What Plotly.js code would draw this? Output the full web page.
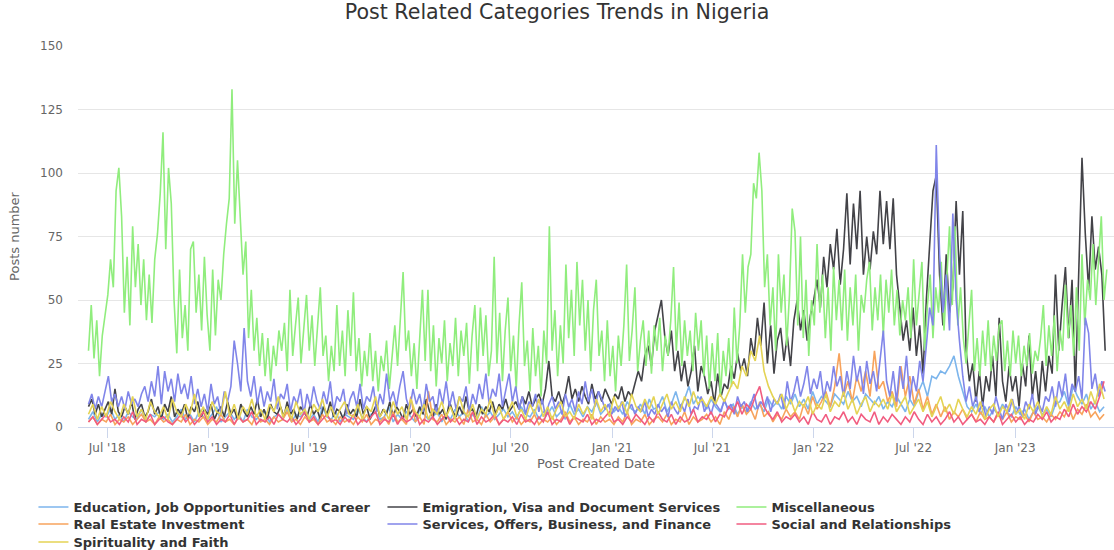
<!DOCTYPE html>
<html>
<head>
<meta charset="utf-8">
<script src="https://cdn.plot.ly/plotly-3.0.1.min.js"></script>
<style>html,body{margin:0;padding:0;background:#fff;}#chart{width:1114px;height:550px;}</style>
</head>
<body>
<div id="chart"></div>
<script>
// ---- data ----
const START_DATE = '2018-05-28';
const MISC_STEP_DAYS = 5;   // Miscellaneous sampled every 5 days
const MAIN_STEP_DAYS = 6;   // Emigration / Services sampled every 6 days
const MINOR_STEP_DAYS = 8;  // the four small categories sampled every 8 days

const seriesNames = [
  'Education, Job Opportunities and Career',
  'Emigration, Visa and Document Services',
  'Miscellaneous',
  'Real Estate Investment',
  'Services, Offers, Business, and Finance',
  'Social and Relationships',
  'Spirituality and Faith'
];

const miscellaneous = [
  30,48,27,42,20,36,44,52,66,55,
  93,102,83,45,67,40,79,55,72,48,
  66,42,60,41,66,76,92,116,70,102,
  88,50,29,62,35,48,30,70,73,45,
  60,38,67,44,30,62,36,58,50,68,
  80,90,133,80,105,85,60,73,35,54,
  30,43,24,37,20,35,18,32,24,38,
  30,41,22,54,28,40,51,25,38,52,
  30,44,24,40,55,28,36,18,32,22,
  48,24,38,20,46,28,53,22,35,16,
  30,20,37,18,30,14,28,22,34,15,
  26,40,24,44,61,30,38,20,33,15,
  36,54,26,54,22,40,16,35,25,42,
  18,33,24,43,20,38,28,41,17,36,
  48,22,47,28,44,20,30,67,25,45,
  18,38,51,22,36,15,40,57,24,34,
  14,39,20,32,12,38,25,79,30,46,
  20,40,25,64,35,54,28,65,40,58,
  30,50,22,46,58,28,38,18,42,20,
  32,14,36,24,40,64,26,38,55,22,
  34,42,24,38,21,40,30,43,22,36,
  28,42,63,30,49,24,42,28,38,22,
  45,30,42,20,36,15,33,18,37,12,
  30,20,35,16,47,25,40,68,45,63,
  68,96,90,108,93,55,68,40,55,30,
  68,45,60,32,52,86,77,40,75,35,
  58,28,50,40,72,45,60,35,55,30,
  63,42,58,38,62,34,55,40,60,30,
  52,45,58,65,38,55,42,60,36,58,
  45,62,40,54,36,50,42,55,35,66,
  40,52,65,30,48,60,35,55,45,65,
  38,58,79,48,79,40,55,35,25,40,
  54,22,35,20,38,24,42,22,36,26,
  40,42,22,34,20,38,25,36,20,32,
  24,37,21,30,26,35,48,24,40,28,
  44,22,38,30,56,35,48,28,55,30,
  68,40,58,50,72,48,64,83,50,62
];

const emigration = [
  8,11,5,9,4,7,10,5,15,6,
  4,8,5,10,3,7,9,4,6,11,
  5,8,3,9,6,12,4,7,5,9,
  3,8,6,10,4,7,5,9,3,6,
  8,4,10,5,7,3,9,6,4,8,
  5,11,4,7,3,9,6,5,8,4,
  10,5,7,3,8,6,4,9,5,7,
  3,8,5,10,4,7,6,3,9,5,
  7,4,11,5,8,3,6,9,4,7,
  5,10,4,8,6,3,9,5,7,4,
  8,5,11,6,4,9,5,7,3,10,
  6,4,8,5,12,6,7,4,9,5,
  8,6,10,5,9,7,11,6,8,10,
  7,12,9,14,8,11,13,9,15,26,
  12,10,14,9,13,20,11,15,10,16,
  12,9,17,11,14,10,15,12,9,13,
  11,16,10,14,12,17,22,18,28,32,
  24,38,44,50,36,28,38,22,30,18,
  26,16,22,32,14,24,20,13,18,9,
  21,12,17,15,24,19,29,22,27,20,
  35,28,43,32,49,25,40,21,34,39,
  26,36,24,42,50,38,46,34,44,50,
  58,47,67,55,72,62,78,56,70,92,
  64,88,70,93,60,75,62,77,68,93,
  72,89,70,90,60,48,34,42,30,47,
  28,40,21,50,74,93,99,60,40,68,
  45,55,89,60,85,30,18,25,10,22,
  8,20,14,28,12,43,18,10,24,14,
  20,8,25,16,36,12,22,9,26,14,
  28,21,60,30,48,63,35,58,14,61,
  106,76,54,83,62,71,60,30
];

const services = [
  9,13,7,12,8,14,20,10,13,8,
  12,7,14,9,11,8,13,16,10,18,
  12,24,9,22,14,19,10,21,13,17,
  11,20,9,15,8,13,6,17,9,12,
  5,14,10,16,34,25,14,39,18,12,
  20,9,16,8,14,10,19,7,13,11,
  17,6,12,9,15,5,13,8,16,10,
  7,14,9,18,6,12,10,15,5,11,
  14,8,17,7,12,10,16,6,13,9,
  21,10,14,8,16,22,11,7,15,9,
  13,6,17,10,12,5,15,9,18,8,
  14,7,12,10,16,6,13,9,17,11,
  21,9,15,12,21,8,14,21,10,16,
  7,12,5,10,8,13,6,11,4,9,
  12,7,10,5,13,8,11,6,14,9,
  18,10,15,8,14,11,7,9,5,8,
  6,10,4,7,9,5,8,6,10,4,
  7,5,9,6,8,4,10,7,5,9,
  6,11,5,8,7,12,6,9,5,10,
  8,6,11,7,9,5,12,8,10,6,
  9,13,7,10,8,12,6,11,9,13,
  7,18,10,14,20,12,17,24,13,19,
  15,22,11,18,14,24,16,20,12,22,
  15,28,18,24,13,26,17,22,14,25,
  38,18,12,22,10,24,15,28,11,20,
  14,26,18,32,47,40,111,68,45,60,
  38,84,50,34,20,10,16,8,12,6,
  10,4,8,5,12,7,3,9,6,11,
  5,8,4,10,7,13,5,9,6,12,
  10,16,8,18,12,21,9,17,14,20,
  11,43,37,15,21,12,18,14
];

const education = [
  3,6,2,5,4,7,3,5,2,6,4,3,7,2,5,4,6,3,5,2,
  4,7,3,5,2,6,4,3,5,8,2,4,6,3,5,2,7,4,3,5,
  6,2,4,5,3,7,2,5,4,6,3,5,2,8,4,3,6,2,5,4,
  3,7,4,2,5,6,3,4,8,2,5,3,6,4,2,7,5,3,4,6,
  2,5,3,7,4,6,2,5,3,8,4,6,3,5,7,4,6,3,8,5,
  4,7,3,6,5,8,4,6,3,9,5,7,4,8,6,10,5,7,9,6,
  8,5,10,7,6,9,5,11,7,8,12,6,9,14,8,11,16,9,12,10,
  7,11,8,6,10,7,9,5,8,6,10,7,9,6,11,8,10,7,12,9,
  13,8,11,7,14,9,12,10,8,13,11,9,14,10,12,8,13,11,9,12,
  7,10,8,12,9,6,11,8,14,18,12,20,19,22,21,24,28,20,14,8,
  6,9,5,8,4,7,5,9,6,4,8,5,7,3,6,8,5,7,4,9,
  10,14,8,16,12,9,13,7,10,6,8
];

const realEstate = [
  2,4,1,3,2,5,1,3,2,4,1,3,5,2,3,1,4,2,3,1,
  3,2,5,1,3,2,4,1,3,2,5,2,3,1,4,2,3,1,5,2,
  3,1,4,2,3,6,2,3,1,4,2,3,1,5,2,3,1,4,2,3,
  1,4,2,5,1,3,2,4,1,6,2,3,1,12,2,4,1,14,3,2,
  5,1,3,2,4,1,7,2,3,1,5,2,4,1,3,6,2,4,1,3,
  2,5,1,3,2,4,1,3,6,2,4,1,3,2,5,1,4,2,3,1,
  4,2,6,1,3,2,5,1,3,4,2,5,1,3,2,6,1,4,2,3,
  5,2,4,1,6,3,8,4,9,5,7,3,10,4,6,2,5,3,7,4,
  6,3,9,5,12,7,10,14,8,16,29,12,18,10,20,14,22,12,30,15,
  18,10,14,8,24,12,20,9,15,7,12,5,9,4,8,3,6,4,7,3,
  5,2,6,3,4,2,5,3,6,2,4,3,5,2,6,3,4,2,5,3,
  6,4,8,3,7,5,9,4,6,3,5
];

const social = [
  2,4,1,3,5,2,3,1,4,2,6,1,3,2,5,1,3,4,2,1,
  3,5,2,4,1,3,6,2,4,1,3,2,5,1,4,2,3,6,1,3,
  2,4,1,5,3,2,4,1,3,6,2,4,1,3,5,2,3,1,4,2,
  5,1,3,2,4,6,1,3,2,5,1,4,2,3,6,1,3,2,4,1,
  3,5,2,4,1,3,2,6,1,4,2,3,5,1,3,2,4,1,5,2,
  3,1,4,2,6,1,3,2,5,1,4,3,2,5,1,3,2,4,6,2,
  3,1,4,2,5,3,1,4,2,6,3,2,5,1,4,2,3,7,2,4,
  3,6,2,5,4,8,6,10,5,9,7,12,16,8,5,3,6,2,4,3,
  5,2,4,1,6,3,2,5,1,4,3,6,2,4,1,5,3,2,6,1,
  4,2,5,3,1,4,2,6,3,1,5,2,4,1,3,6,2,4,1,3,
  5,2,3,1,4,2,6,1,3,5,2,4,1,3,2,5,3,6,2,4,
  3,7,4,9,5,8,6,10,7,12,18
];

const spirituality = [
  5,9,3,8,4,10,6,3,9,5,12,4,7,3,10,6,4,8,3,11,
  6,4,9,5,13,4,8,3,10,6,5,14,4,9,3,8,5,11,4,7,
  3,9,6,12,4,8,3,10,5,7,3,9,6,11,4,8,3,7,10,5,
  4,9,3,8,6,12,4,7,3,10,5,8,3,11,6,4,9,3,7,5,
  10,4,8,3,12,6,4,9,3,7,5,11,4,8,3,6,10,4,7,3,
  9,5,11,4,8,3,7,10,4,6,3,9,5,8,3,11,6,9,4,12,
  7,10,5,13,8,6,11,7,12,5,9,13,7,10,6,12,8,14,9,11,
  8,12,9,13,10,14,18,15,24,20,30,26,36,22,16,12,9,13,7,11,
  6,10,8,12,5,9,7,13,6,10,8,14,7,11,5,9,12,6,10,8,
  11,7,13,6,9,12,5,8,11,6,10,4,8,12,6,9,5,11,7,4,
  8,5,10,3,7,9,4,8,6,11,5,7,3,9,6,10,4,8,5,12,
  7,10,6,13,8,11,7,14,9,17,11
];

const seriesColors = ['#7cb5ec','#434348','#90ed7d','#f7a35c','#8085e9','#f15c80','#e4d354'];

// ---- build dates from start + step ----
function datesFor(n, stepDays) {
  const t0 = Date.parse(START_DATE + 'T00:00:00Z');
  const out = [];
  for (let i = 0; i < n; i++) out.push(new Date(t0 + i * stepDays * 86400000).toISOString().slice(0, 10));
  return out;
}

const seriesValues = [education, emigration, miscellaneous, realEstate, services, social, spirituality];
const seriesSteps = [MINOR_STEP_DAYS, MAIN_STEP_DAYS, MISC_STEP_DAYS, MINOR_STEP_DAYS, MAIN_STEP_DAYS, MINOR_STEP_DAYS, MINOR_STEP_DAYS];
// legend row for each series (three rows, three columns like the reference)
const legendRow = ['legend', 'legend', 'legend', 'legend2', 'legend2', 'legend2', 'legend3'];

const FONT = 'DejaVu Sans, Verdana, sans-serif';

const traces = seriesNames.map((name, idx) => ({
  type: 'scatter',
  mode: 'lines',
  name: name,
  legend: legendRow[idx],
  x: datesFor(seriesValues[idx].length, seriesSteps[idx]),
  y: seriesValues[idx],
  line: {color: seriesColors[idx], width: 1.6},
  hoverinfo: 'x+y+name'
}));

const PLOT_TOP = 46, PLOT_BOTTOM = 427, H = 550;
const plotH = PLOT_BOTTOM - PLOT_TOP;
function legendAt(rowCenterPx) {
  return {
    orientation: 'h',
    x: -0.043, xanchor: 'left',
    y: -(rowCenterPx - PLOT_BOTTOM) / plotH, yanchor: 'middle',
    entrywidth: 304,
    entrywidthmode: 'pixels',
    font: {family: FONT, size: 13, color: '#333333', weight: 'bold'},
    bgcolor: 'rgba(0,0,0,0)',
    traceorder: 'normal'
  };
}

const layout = {
  width: 1114,
  height: 550,
  margin: {l: 78, r: 0, t: PLOT_TOP, b: H - PLOT_BOTTOM, pad: 0, autoexpand: false},
  paper_bgcolor: '#ffffff',
  plot_bgcolor: '#ffffff',
  font: {family: FONT, color: '#666666', size: 12},
  title: {
    text: 'Post Related Categories Trends in Nigeria',
    font: {family: FONT, size: 20.6, color: '#333333'},
    x: 0.5, xref: 'container', xanchor: 'center',
    y: 1 - 12 / 550, yref: 'container', yanchor: 'middle'
  },
  xaxis: {
    type: 'date',
    range: ['2018-05-09', '2023-06-29'],
    tick0: '2018-07-01',
    dtick: 'M6',
    tickformat: "%b '%y",
    ticks: 'outside',
    ticklen: 10,
    tickcolor: '#ccd6eb',
    tickwidth: 1,
    showline: true,
    linecolor: '#ccd6eb',
    linewidth: 1,
    showgrid: false,
    zeroline: false,
    tickfont: {family: FONT, size: 12, color: '#666666'},
    title: {text: 'Post Created Date', font: {family: FONT, size: 13, color: '#666666'}, standoff: 4},
    automargin: false
  },
  yaxis: {
    range: [0, 150],
    dtick: 25,
    tick0: 0,
    showgrid: true,
    gridcolor: '#e6e6e6',
    gridwidth: 1,
    zeroline: false,
    showline: false,
    ticks: '',
    ticklabelstandoff: 14,
    tickfont: {family: FONT, size: 12, color: '#666666'},
    title: {text: 'Posts number', font: {family: FONT, size: 13, color: '#666666'}, standoff: 17},
    automargin: false
  },
  showlegend: true,
  legend: legendAt(507),
  legend2: legendAt(524),
  legend3: legendAt(542),
  hovermode: 'closest'
};

Plotly.newPlot('chart', traces, layout, {displayModeBar: false, staticPlot: true});
</script>
</body>
</html>
